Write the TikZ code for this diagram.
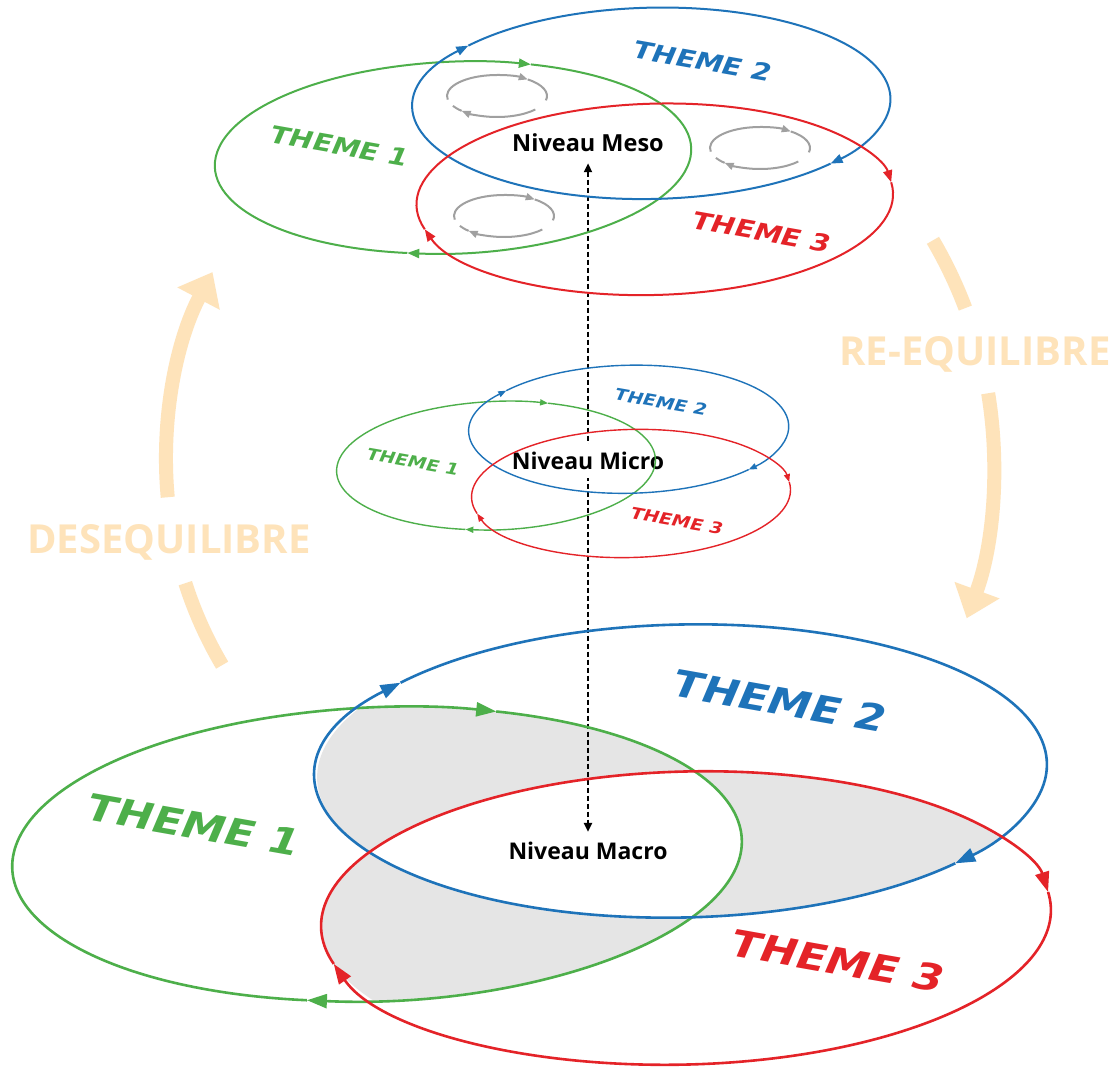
\documentclass[tikz,border=0pt]{standalone}
\usepackage{fontspec}
\usetikzlibrary{arrows.meta}
\newfontfamily\osans{Open Sans}
\newfontfamily\themefont[FakeStretch=1.18]{DejaVu Sans}
\definecolor{gcol}{RGB}{77,175,74}
\definecolor{bcol}{RGB}{30,115,185}
\definecolor{rcol}{RGB}{228,35,40}
\definecolor{orng}{RGB}{254,227,186}
\definecolor{cycgray}{RGB}{160,160,160}
\definecolor{lensgray}{RGB}{229,229,229}
\tikzset{
 tipB/.style={-{Triangle[length=20pt,width=14pt]}},
 tipT/.style={-{Triangle[length=12pt,width=9pt]}},
 tipM/.style={-{Triangle[length=8pt,width=6pt]}},
 tipC/.style={-{Triangle[length=9pt,width=7pt]}},
 orangeline/.style={draw=orng, line width=14pt},
 orangetip/.style={-{Triangle[length=30pt,width=46pt]}},
 orangetext/.style={text=orng, font=\osans\bfseries\fontsize{40}{40}\selectfont, text depth=0pt, inner sep=0pt},
 themelabel/.style={font=\themefont\bfseries\itshape\fontsize{#1}{#1}\selectfont, inner sep=0pt, rotate=-10},
 levellabel/.style={font=\osans\bfseries\fontsize{#1}{#1}\selectfont, text=black, inner sep=1pt},
 cyc/.style={draw=cycgray, line width=2pt},
 dasharrow/.style={line width=2.2pt, dash pattern=on 5pt off 3pt, {Triangle[length=9pt,width=8pt]}-{Triangle[length=9pt,width=8pt]}},
}
% three theme ellipses, relative to the green centre
\newcommand\trioellipses[1]{%
 \draw[gcol,#1,rotate around={2.3:(0,0)}] (0,0) ++(102:365 and 146.5) arc[start angle=102,end angle=290,x radius=365,y radius=146.5];
 \draw[gcol,#1,rotate around={2.3:(0,0)}] (0,0) ++(290:365 and 146.5) arc[start angle=290,end angle=462,x radius=365,y radius=146.5];
 \draw[bcol,#1,rotate around={1.2:(305,-83)}] (305,-83) ++(42:365 and 146.5) arc[start angle=42,end angle=220,x radius=365,y radius=146.5];
 \draw[bcol,#1,rotate around={1.2:(305,-83)}] (305,-83) ++(220:365 and 146.5) arc[start angle=220,end angle=402,x radius=365,y radius=146.5];
 \draw[rcol,#1,rotate around={1.5:(309,64)}] (309,64) ++(165.5:365 and 146.5) arc[start angle=165.5,end angle=353.5,x radius=365,y radius=146.5];
 \draw[rcol,#1,rotate around={1.5:(309,64)}] (309,64) ++(353.5:365 and 146.5) arc[start angle=353.5,end angle=525.5,x radius=365,y radius=146.5];
}
\newcommand\graycycle[2]{%
 \draw[cyc,tipC] (#1,#2) ++(170:50 and 21) arc[start angle=170,end angle=308,x radius=50,y radius=21];
 \draw[cyc] (#1,#2) ++(308:50 and 21) arc[start angle=308,end angle=372,x radius=50,y radius=21];
 \draw[cyc,tipC] (#1,#2) ++(40:50 and 21) arc[start angle=40,end angle=135,x radius=50,y radius=21];
 \draw[cyc] (#1,#2) ++(135:50 and 21) arc[start angle=135,end angle=152,x radius=50,y radius=21];
}
\begin{document}
\begin{tikzpicture}[x=1pt,y=-1pt]
\fill[white] (0,0) rectangle (1116,1066);
\useasboundingbox (0,0) rectangle (1116,1066);

% orange cycle arrows
\draw[orangeline] (569,460) ++(149.4:403) arc[start angle=149.4,end angle=162.2,radius=403];
\draw[orangeline,orangetip] (569,460) ++(174.7:403) arc[start angle=174.7,end angle=207.8,radius=403];
\draw[orangeline] (550,465) ++(-30.4:444) arc[start angle=-30.4,end angle=-20.7,radius=444];
\draw[orangeline,orangetip] (550,465) ++(-9.3:444) arc[start angle=-9.3,end angle=20.2,radius=444];
\node[orangetext] (deseq) at (169,539) {DESEQUILIBRE};
\node[orangetext] (reeq) at (975,351) {RE-EQUILIBRE};

% grey lenses of the macro level
\begin{scope}[shift={(377,854)}]
 \begin{scope}
  \clip[rotate around={2.3:(0,0)}] (0,0) ellipse[x radius=365,y radius=146.5];
  \fill[lensgray,rotate around={1.2:(305,-83)}] (305,-83) ellipse[x radius=365,y radius=146.5];
  \fill[lensgray,rotate around={1.5:(309,64)}] (309,64) ellipse[x radius=365,y radius=146.5];
 \end{scope}
 \begin{scope}
  \clip[rotate around={1.2:(305,-83)}] (305,-83) ellipse[x radius=365,y radius=146.5];
  \fill[lensgray,rotate around={1.5:(309,64)}] (309,64) ellipse[x radius=365,y radius=146.5];
 \end{scope}
 \begin{scope}
  \clip[rotate around={2.3:(0,0)}] (0,0) ellipse[x radius=365,y radius=146.5];
  \clip[rotate around={1.2:(305,-83)}] (305,-83) ellipse[x radius=365,y radius=146.5];
  \fill[white,rotate around={1.5:(309,64)}] (309,64) ellipse[x radius=365,y radius=146.5];
 \end{scope}
\end{scope}

% level labels and the vertical link
\node[levellabel=23.5] (meso) at (588,143) {Niveau Meso};
\node[levellabel=23] (macro) at (588,851) {Niveau Macro};
\draw[dasharrow,shorten <=10pt,shorten >=9pt] (meso.south) -- (meso.south |- macro.north);
\node[levellabel=23,fill=white,inner ysep=8pt] (micro) at (588,461) {Niveau Micro};

% ellipses of the three levels
\begin{scope}[shift={(377,854)},line width=2.6pt]
 \trioellipses{tipB}
\end{scope}
\begin{scope}[shift={(453,157.5)},scale=0.653,line width=2pt]
 \trioellipses{tipT}
\end{scope}
\begin{scope}[shift={(496,465.5)},scale=0.437,line width=1.4pt]
 \trioellipses{tipM}
\end{scope}

% grey cycles
\graycycle{497}{96}
\graycycle{760}{148}
\graycycle{504}{216}

% theme labels
\node[themelabel=37,text=gcol] (b1) at (194,825) {THEME 1};
\node[themelabel=37,text=bcol] (b2) at (780,701) {THEME 2};
\node[themelabel=37,text=rcol] (b3) at (838,961) {THEME 3};
\node[themelabel=24,text=gcol] (t1) at (340,146) {THEME 1};
\node[themelabel=24,text=bcol] (t2) at (703,61) {THEME 2};
\node[themelabel=24,text=rcol] (t3) at (762,232) {THEME 3};
\node[themelabel=16,text=gcol] (m1) at (413,462) {THEME 1};
\node[themelabel=16,text=bcol] (m2) at (661,402) {THEME 2};
\node[themelabel=16,text=rcol] (m3) at (677,521) {THEME 3};
\end{tikzpicture}
\end{document}
